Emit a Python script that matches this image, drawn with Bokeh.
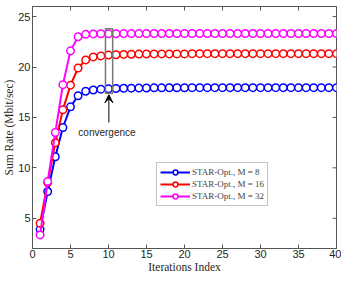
from bokeh.plotting import figure
from bokeh.models import Legend, LegendItem, Arrow, VeeHead, Range1d, FixedTicker
from bokeh.embed import file_html
from bokeh.resources import INLINE
from bokeh.core.properties import value

iters = list(range(1, 41))
rate_m8 = [3.9, 7.65, 11.1, 14.0, 16.05, 17.15, 17.6, 17.72, 17.8, 17.84,
           17.87, 17.89, 17.9, 17.91, 17.92, 17.93, 17.93, 17.94, 17.94, 17.94] + [17.95] * 20
rate_m16 = [4.5, 8.55, 12.5, 15.75, 18.2, 19.9, 20.7, 21.0, 21.1, 21.18,
            21.22, 21.25, 21.27, 21.28, 21.29, 21.3, 21.3, 21.3, 21.3, 21.3] + [21.32] * 20
rate_m32 = [3.35, 8.65, 13.5, 18.25, 21.6, 23.0, 23.24, 23.28, 23.3, 23.3,
            23.3, 23.31, 23.31, 23.31, 23.32, 23.32, 23.32, 23.32, 23.32, 23.32] + [23.32] * 20
labels = ["STAR-Opt., M = 8", "STAR-Opt., M = 16", "STAR-Opt., M = 32"]
colors = ["#0000FF", "#FF0000", "#FF00FF"]
x_ticks = [0, 5, 10, 15, 20, 25, 30, 35, 40]
y_ticks = [5, 10, 15, 20, 25]
x_min, x_max, y_min, y_max = 0, 40, 2, 26

p = figure(width=341, height=275, output_backend="svg", toolbar_location=None,
           x_range=Range1d(x_min, x_max), y_range=Range1d(y_min, y_max),
           min_border_left=0, min_border_right=5, min_border_top=6, min_border_bottom=0)
p.xgrid.visible = False
p.ygrid.visible = False
axis_col = "#555555"
p.outline_line_color = axis_col
p.outline_line_width = 1

for ax in [p.xaxis[0], p.yaxis[0]]:
    ax.axis_line_color = axis_col
    ax.major_tick_line_color = axis_col
    ax.major_tick_in = 4
    ax.major_tick_out = 0
    ax.minor_tick_line_color = None
    ax.major_label_text_font = "Liberation Sans"
    ax.major_label_text_font_size = "11px"
    ax.major_label_text_color = "#262626"
    ax.axis_label_text_font = "Liberation Serif"
    ax.axis_label_text_font_style = "normal"
    ax.axis_label_text_font_size = "11.5px"
    ax.axis_label_text_color = "#262626"
    ax.major_label_standoff = 1
    ax.axis_label_standoff = 0
p.xaxis[0].ticker = FixedTicker(ticks=x_ticks)
p.yaxis[0].ticker = FixedTicker(ticks=y_ticks)
p.xaxis[0].axis_label = "Iterations Index"
p.yaxis[0].axis_label = "Sum Rate (Mbit/sec)"
p.yaxis[0].major_label_standoff = 2

# inward ticks on top and right edges (mirror of the bottom / left ticks)
tx = (x_max - x_min) / 312 * 4
ty = (y_max - y_min) / 245 * 4
p.segment(x0=x_ticks, x1=x_ticks, y0=[y_max] * len(x_ticks), y1=[y_max - ty] * len(x_ticks),
          line_color=axis_col, line_width=1)
p.segment(x0=[x_max] * len(y_ticks), x1=[x_max - tx] * len(y_ticks), y0=y_ticks, y1=y_ticks,
          line_color=axis_col, line_width=1)

items = []
for ys, c, lab in zip([rate_m8, rate_m16, rate_m32], colors, labels):
    l = p.line(iters, ys, line_color=c, line_width=2)
    s = p.scatter(iters, ys, marker="circle", size=7.5, line_color=c, line_width=1.5, fill_color="white")
    items.append(LegendItem(label=lab, renderers=[l, s]))

# convergence box and arrow
p.quad(left=[9.6], right=[10.55], bottom=[17.4], top=[23.8], fill_color=None,
       line_color="#777777", line_width=1.5)
p.add_layout(Arrow(end=VeeHead(size=8, fill_color="black", line_color="black"),
                   x_start=10.05, y_start=14.5, x_end=10.05, y_end=17.25,
                   line_color="black", line_width=1))
p.text(x=[9.8], y=[13.55], text=["convergence"], text_font=value("Liberation Sans"),
       text_font_size="10px", text_align="center", text_baseline="middle", text_color="#262626")

legend = Legend(items=items, location=(124, 42))
legend.label_text_font = "Liberation Serif"
legend.label_text_font_size = "9px"
legend.label_height = 12
legend.glyph_height = 12
legend.glyph_width = 30
legend.spacing = 0
legend.padding = 3
legend.margin = 0
legend.label_standoff = 2
legend.border_line_color = "#888888"
legend.border_line_width = 1.5
legend.background_fill_color = "white"
legend.background_fill_alpha = 1
p.add_layout(legend, "center")

open("out.html", "w").write(file_html(p, INLINE))
